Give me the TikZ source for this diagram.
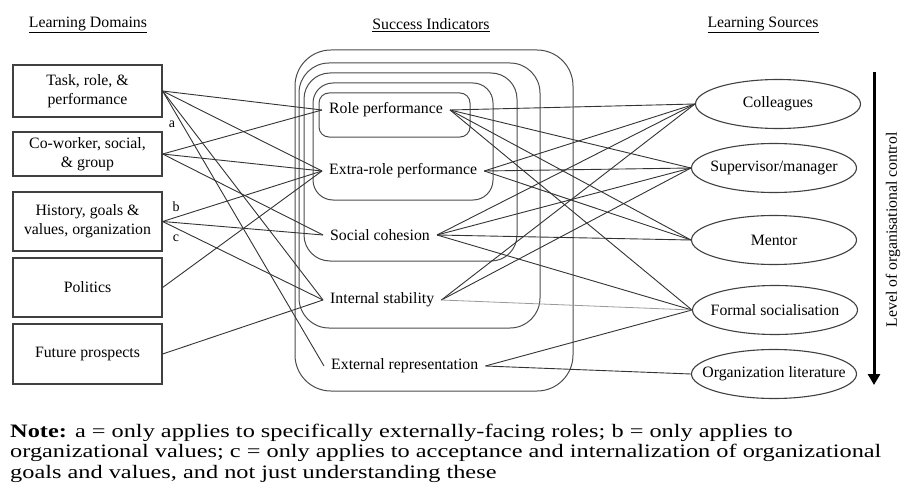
\documentclass[tikz,border=0pt]{standalone}
\usepackage{fontspec}
\setmainfont{Liberation Serif}
\newfontfamily\notefont[FakeStretch=1.28]{Liberation Serif}
\usetikzlibrary{shapes.geometric,arrows.meta}

\begin{document}
\begin{tikzpicture}[x=1pt,y=-1pt,
  every node/.style={font=\fontsize{15.8}{19}\selectfont},
  domainbox/.style={draw=black!75,line width=1.2pt,minimum width=149pt,inner sep=2pt,align=center},
  sourceoval/.style={draw=black!75,line width=1.1pt,ellipse,minimum width=165pt,minimum height=49pt,inner sep=0pt},
  indicator/.style={inner xsep=7pt,inner ysep=2pt,anchor=west},
  band/.style={draw=black!70,line width=1pt},
  link/.style={draw=black!80,line width=0.9pt},
  faint/.style={draw=black!40,line width=0.8pt},
  tagtext/.style={font=\fontsize{14}{16}\selectfont,inner sep=1pt},
  notetext/.style={font=\notefont\fontsize{19}{20.5}\selectfont,inner sep=0pt,anchor=base west}]
\useasboundingbox (0,0) rectangle (904,500);

\node (domains) at (88,25) {\underline{Learning Domains}};
\node (indicators) at (431,25) {\underline{Success Indicators}};
\node (sources) at (763,25) {\underline{Learning Sources}};

\node[domainbox,minimum height=52pt] (task) at (87.5,91) {Task, role, \&\\performance};
\node[domainbox,minimum height=44pt] (cowork) at (87.5,154) {Co-worker, social,\\\& group};
\node[domainbox,minimum height=59pt] (history) at (87.5,221.5) {History, goals \&\\values, organization};
\node[domainbox,minimum height=59pt] (politics) at (87.5,287.5) {Politics};
\node[domainbox,minimum height=60pt] (future) at (87.5,354) {Future prospects};

\draw[band,rounded corners=36pt] (295,50) rectangle (573,391);
\draw[band,rounded corners=30pt] (299,63) rectangle (540,328);
\draw[band,rounded corners=26pt] (304,73) rectangle (517,261);
\draw[band,rounded corners=20pt] (313,83) rectangle (493,200);
\draw[band,rounded corners=10pt] (319,93) rectangle (470,137);

\node[indicator] (role) at (322,110) {Role performance};
\node[indicator] (extra) at (322,171) {Extra-role performance};
\node[indicator] (cohesion) at (323,235) {Social cohesion};
\node[indicator] (stability) at (323,300) {Internal stability};
\node[indicator] (external) at (324,366) {External representation};

\node[sourceoval,label=center:Colleagues] (colleagues) at (778,104) {};
\node[sourceoval,label=center:Supervisor/manager] (supervisor) at (774,168) {};
\node[sourceoval,label=center:Mentor] (mentor) at (774,240) {};
\node[sourceoval,label=center:Formal socialisation] (formal) at (775,310) {};
\node[sourceoval,label=center:Organization literature] (literature) at (774,374) {};

\foreach \s/\t in {task/role,task/extra,task/stability,task/external,
  cowork/role,cowork/extra,cowork/cohesion,
  history/extra,history/cohesion,history/stability,
  politics/extra,future/stability}
  \draw[link] (\s.east) -- (\t.west);

\foreach \s/\t in {role/colleagues,role/supervisor,role/mentor,role/formal,
  extra/colleagues,extra/supervisor,extra/mentor,
  cohesion/colleagues,cohesion/supervisor,cohesion/mentor,cohesion/formal,
  stability/colleagues,stability/supervisor,
  external/formal,external/literature}
  \draw[link] (\s.east) -- (\t.west);
\draw[faint] (stability.east) -- (formal.west);

\node[tagtext] (a) at (172,124) {a};
\node[tagtext] (b) at (176,207) {b};
\node[tagtext] (c) at (176,238) {c};

\coordinate (high) at (874,72);
\coordinate (low) at (874,385);
\draw[line width=3pt,-{Triangle[width=12pt,length=11pt]}] (high) -- (low);
\node[rotate=90] (control) at (893,230) {Level of organisational control};

\node[notetext] (note1) at (10,437) {\textbf{Note:} a = only applies to specifically externally-facing roles; b = only applies to};
\node[notetext] (note2) at (10,457.5) {organizational values; c = only applies to acceptance and internalization of organizational};
\node[notetext] (note3) at (10,478) {goals and values, and not just understanding these};
\end{tikzpicture}
\end{document}
